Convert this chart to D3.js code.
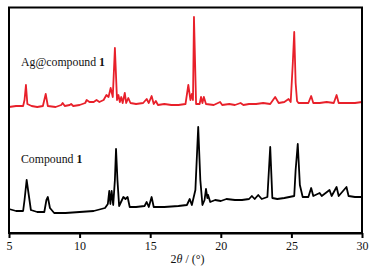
<!DOCTYPE html>
<html>
<head>
<meta charset="utf-8">
<script src="https://cdn.jsdelivr.net/npm/d3@7"></script>
<style>
  body { margin: 0; background: #fff; }
  text { font-family: "Liberation Serif", "Times New Roman", serif; }
</style>
</head>
<body>
<div id="plot"></div>
<script>
// x ticks (2theta, degrees)
const xTicks = [5, 10, 15, 20, 25, 30];

// Ag@compound 1 pattern: [2theta, intensity (a.u.)]
const agPattern = [
  [5.0, 126], [5.5, 127], [6.0, 127], [6.1, 133], [6.2, 148], [6.3, 129], [6.6, 127],
  [7.0, 126], [7.4, 127], [7.6, 139], [7.75, 127], [8.3, 126], [8.7, 128], [8.8, 130],
  [8.95, 127], [9.3, 128], [9.4, 129], [9.55, 127], [10.0, 128], [10.4, 130], [10.5, 133],
  [10.7, 131], [11.0, 131], [11.2, 133], [11.4, 131], [11.7, 133], [11.9, 138], [12.05, 136],
  [12.2, 145], [12.35, 136], [12.5, 185], [12.65, 133], [12.75, 138], [12.85, 131],
  [12.95, 136], [13.05, 130], [13.2, 140], [13.3, 130], [13.45, 135], [13.6, 130],
  [14.0, 129], [14.5, 130], [14.75, 134], [14.9, 130], [15.1, 137], [15.25, 129],
  [15.4, 132], [15.55, 128], [16.0, 129], [16.5, 128], [17.0, 128], [17.5, 129], [17.7, 148],
  [17.85, 133], [17.95, 139], [18.03, 133], [18.1, 216], [18.25, 129], [18.5, 129],
  [18.6, 136], [18.7, 130], [18.8, 136], [18.95, 129], [19.5, 128], [19.95, 131],
  [20.1, 128], [20.6, 129], [21.0, 128], [21.4, 130], [21.6, 128], [22.0, 129], [22.5, 129],
  [23.0, 130], [23.5, 129], [23.85, 136], [24.1, 130], [24.5, 131], [24.8, 134],
  [24.95, 131], [25.1, 170], [25.2, 201], [25.3, 150], [25.4, 132], [25.5, 130],
  [26.2, 130], [26.4, 137], [26.55, 130], [27.0, 130], [27.5, 131], [28.0, 130],
  [28.2, 138], [28.35, 130], [29.0, 130], [29.5, 130], [30.0, 131]
];

// Compound 1 pattern: [2theta, intensity (a.u.)]
const cpdPattern = [
  [5.0, 24], [5.5, 22], [6.0, 22], [6.1, 33], [6.25, 53], [6.4, 38], [6.55, 23],
  [7.0, 21], [7.5, 21], [7.65, 33], [7.75, 36], [7.9, 25], [8.2, 20], [9.0, 20],
  [10.0, 21], [11.0, 22], [11.8, 25], [12.0, 29], [12.1, 42], [12.18, 29], [12.27, 42],
  [12.38, 28], [12.5, 53], [12.58, 84], [12.68, 53], [12.8, 27], [13.0, 33], [13.1, 36],
  [13.25, 34], [13.4, 36], [13.55, 26], [14.0, 26], [14.6, 27], [14.75, 31], [14.9, 26],
  [15.1, 36], [15.25, 26], [16.0, 26], [17.0, 27], [17.6, 28], [17.8, 34], [17.95, 28],
  [18.2, 43], [18.4, 106], [18.55, 53], [18.7, 28], [18.85, 33], [18.95, 44], [19.05, 35],
  [19.1, 38], [19.25, 31], [19.6, 33], [20.0, 32], [20.4, 34], [21.0, 33], [21.5, 33],
  [22.0, 34], [22.2, 37], [22.4, 34], [22.65, 38], [22.9, 34], [23.3, 36], [23.5, 86],
  [23.65, 35], [24.0, 34], [24.5, 35], [25.2, 37], [25.3, 63], [25.45, 89], [25.6, 48],
  [25.8, 36], [26.2, 36], [26.4, 45], [26.55, 37], [27.0, 40], [27.15, 37], [27.7, 43],
  [27.85, 37], [28.2, 46], [28.35, 37], [28.9, 46], [29.05, 37], [29.5, 36], [30.0, 36]
];

const series = [
  { name: "Ag@compound ", bold: "1", data: agPattern, color: "#e8202a", labelAt: [5.85, 167] },
  { name: "Compound ", bold: "1", data: cpdPattern, color: "#000000", labelAt: [5.85, 70] }
];

const svgWidth = 374;
const svgHeight = 272;
const margin = { top: 7.5, right: 12, bottom: 39, left: 9 };
const width = svgWidth - margin.left - margin.right;
const height = svgHeight - margin.top - margin.bottom;

const svg = d3
  .select("div#plot")
  .append("svg")
  .attr("width", svgWidth)
  .attr("height", svgHeight)
  .append("g")
  .attr("transform", "translate(" + margin.left + "," + margin.top + ")");

const xScale = d3.scaleLinear().domain([5, 30]).range([0, width]);
const yScale = d3.scaleLinear().domain([0, height]).range([height, 0]);

const line = d3
  .line()
  .x((d) => xScale(d[0]))
  .y((d) => yScale(d[1]));

series.forEach((s) => {
  svg
    .append("path")
    .datum(s.data)
    .attr("fill", "none")
    .attr("stroke", s.color)
    .attr("stroke-width", 1.8)
    .attr("stroke-linejoin", "round")
    .attr("d", line);

  const t = svg
    .append("text")
    .attr("x", xScale(s.labelAt[0]))
    .attr("y", yScale(s.labelAt[1]))
    .attr("font-size", 11.8)
    .attr("fill", "#111");
  t.append("tspan").text(s.name);
  t.append("tspan").attr("font-weight", "bold").text(s.bold);
});

// frame
svg
  .append("rect")
  .attr("x", 0)
  .attr("y", 0)
  .attr("width", width)
  .attr("height", height)
  .attr("fill", "none")
  .attr("stroke", "#000")
  .attr("stroke-width", 2);

// x axis
const xAxis = svg
  .append("g")
  .attr("transform", "translate(0," + height + ")")
  .call(d3.axisBottom(xScale).tickValues(xTicks).tickSize(5).tickSizeOuter(0));
xAxis.select(".domain").attr("stroke-width", 2);
xAxis.selectAll(".tick line").attr("stroke-width", 2);
xAxis
  .selectAll(".tick text")
  .attr("font-family", "Liberation Serif, serif")
  .attr("font-size", 12)
  .attr("fill", "#111")
  .attr("y", 8);

// axis title
const title = svg
  .append("text")
  .attr("x", width / 2 + 2)
  .attr("y", height + 30)
  .attr("text-anchor", "middle")
  .attr("font-size", 12)
  .attr("fill", "#111");
title.append("tspan").text("2");
title.append("tspan").attr("font-style", "italic").text("θ");
title.append("tspan").text(" / (°)");
</script>
</body>
</html>
